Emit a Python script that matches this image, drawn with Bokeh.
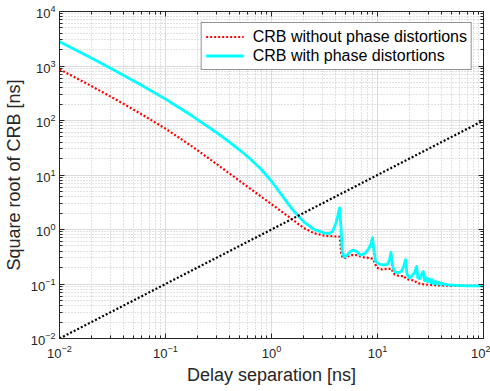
from bokeh.plotting import figure
from bokeh.models import (Range1d, LogAxis, FixedTicker, Legend, LegendItem)
from bokeh.embed import file_html
from bokeh.resources import INLINE

# ---------------- data ----------------
x_label = "Delay separation [ns]"
y_label = "Square root of CRB [ns]"
series_names = ["CRB without phase distortions", "CRB with phase distortions"]

red_x = [0.01, 0.0178, 0.0316, 0.0562, 0.1, 0.178, 0.316, 0.562, 1.0, 1.259,
         1.585, 1.995, 2.512, 3.162, 3.981, 4.365, 4.45, 4.55, 4.7, 5.0,
         5.5, 6.3, 7.3, 8.3, 9.0, 9.4, 9.8, 11.0, 12.5, 13.6,
         14.0, 14.5, 16.0, 17.8, 18.5, 20.0, 22.5, 23.5, 26.0, 30.0,
         36.0, 45.0, 60.0, 100.0]
red_y = [871, 484, 263, 139, 70.8, 33.5, 15.0, 6.6, 2.92, 2.10,
         1.51, 1.08, 0.857, 0.77, 0.746, 0.74, 0.60, 0.36, 0.30, 0.30,
         0.34, 0.34, 0.31, 0.30, 0.29, 0.25, 0.20, 0.185, 0.19, 0.19,
         0.165, 0.15, 0.14, 0.14, 0.125, 0.12, 0.115, 0.105, 0.10, 0.097,
         0.095, 0.093, 0.092, 0.092]

cyan_x = [0.01, 0.0178, 0.0316, 0.0562, 0.1, 0.178, 0.316, 0.398, 0.501, 0.631,
          0.794, 1.0, 1.259, 1.585, 1.995, 2.512, 3.162, 3.55, 3.8, 4.05,
          4.25, 4.38, 4.5, 4.65, 4.85, 5.2, 5.6, 5.9, 6.4, 6.9,
          7.6, 8.3, 8.7, 8.97, 9.2, 9.6, 10.5, 11.5, 12.4, 13.0,
          13.4, 13.8, 14.5, 15.5, 16.8, 17.8, 18.4, 19.0, 20.0, 21.0,
          22.3, 23.4, 24.0, 25.0, 26.0, 27.0, 27.8, 28.8, 29.8, 30.8,
          31.8, 32.8, 34.0, 35.2, 36.5, 38.0, 39.5, 41.0, 43.0, 45.0,
          47.0, 50.0, 53.0, 57.0, 62.0, 70.0, 100.0]
cyan_y = [2800, 1574, 875, 473, 247, 122, 57, 40.6, 28.7, 19.7,
          12.9, 7.67, 4.17, 2.29, 1.41, 1.01, 0.86, 0.85, 0.95, 1.3,
          1.9, 2.5, 1.3, 0.4, 0.31, 0.34, 0.40, 0.42, 0.39, 0.34,
          0.36, 0.45, 0.56, 0.71, 0.45, 0.26, 0.23, 0.225, 0.23, 0.28,
          0.38, 0.22, 0.17, 0.16, 0.17, 0.22, 0.28, 0.15, 0.13, 0.14,
          0.16, 0.21, 0.13, 0.125, 0.15, 0.17, 0.115, 0.13, 0.11, 0.125,
          0.105, 0.12, 0.10, 0.113, 0.099, 0.108, 0.097, 0.103, 0.096, 0.099,
          0.095, 0.096, 0.094, 0.094, 0.093, 0.092, 0.092]

ref_x = [0.01, 100.0]
ref_y = [0.01, 100.0]

x_major = [1e-2, 1e-1, 1e0, 1e1, 1e2]
y_major = [1e-2, 1e-1, 1e0, 1e1, 1e2, 1e3, 1e4]

# ---------------- figure ----------------
FONT = "Liberation Sans"
AX = "#262626"

def minors(majors):
    out = []
    for m in majors[:-1]:
        for k in range(2, 10):
            out.append(m * k)
    return out

xt = FixedTicker(ticks=x_major, minor_ticks=minors(x_major))
yt = FixedTicker(ticks=y_major, minor_ticks=minors(y_major))

p = figure(width=490, height=391, x_axis_type="log", y_axis_type="log",
           x_range=Range1d(0.01, 100), y_range=Range1d(0.01, 1e4),
           output_backend="svg", toolbar_location=None,
           min_border_left=59, min_border_right=7, min_border_top=11, min_border_bottom=53)
p.background_fill_color = "white"
p.border_fill_color = "white"
p.outline_line_color = AX
p.outline_line_width = 1

for ax, t in ((p.xaxis[0], xt), (p.yaxis[0], yt)):
    ax.ticker = t
    ax.axis_line_color = AX
    ax.major_tick_line_color = AX
    ax.minor_tick_line_color = AX
    ax.major_tick_in = 5
    ax.major_tick_out = 0
    ax.minor_tick_in = 3
    ax.minor_tick_out = 0
    ax.major_label_text_font = FONT
    ax.major_label_text_font_size = "13px"
    ax.major_label_text_color = AX
    ax.axis_label_text_font = FONT
    ax.axis_label_text_font_size = "18px"
    ax.axis_label_text_font_style = "normal"
    ax.axis_label_text_color = AX

p.xaxis.axis_label = x_label
p.yaxis.axis_label = y_label
p.xaxis.major_label_standoff = 6
p.yaxis.major_label_standoff = 4
p.xaxis.axis_label_standoff = 4
p.yaxis.axis_label_standoff = 4

# mirrored axes (top and right) with inward ticks, no visible labels
for side, t in (("above", xt), ("right", yt)):
    a = LogAxis(ticker=t)
    a.major_label_text_font_size = "1px"
    a.major_label_text_alpha = 0
    a.major_label_standoff = 0
    a.axis_line_color = AX
    a.major_tick_line_color = AX
    a.minor_tick_line_color = AX
    a.major_tick_in = 5
    a.major_tick_out = 0
    a.minor_tick_in = 3
    a.minor_tick_out = 0
    p.add_layout(a, side)

# grids
for g, t in ((p.xgrid[0], xt), (p.ygrid[0], yt)):
    g.ticker = t
    g.grid_line_color = "#dcdcdc"
    g.grid_line_width = 1
    g.minor_grid_line_color = "#c4c4c4"
    g.minor_grid_line_dash = "1 2"
    g.minor_grid_line_width = 1

# lines
r_red = p.line(red_x, red_y, line_color="#ff0000", line_width=2.2, line_dash="2 2")
r_cyan = p.line(cyan_x, cyan_y, line_color="#00ffff", line_width=2.8, line_join="round")
p.line(ref_x, ref_y, line_color="black", line_width=2.2, line_dash="2 2")

legend = Legend(items=[LegendItem(label=series_names[0], renderers=[r_red]),
                       LegendItem(label=series_names[1], renderers=[r_cyan])],
                location="top_right")
legend.label_text_font = FONT
legend.label_text_font_size = "16px"
legend.label_text_color = "black"
legend.border_line_color = AX
legend.border_line_width = 1
legend.background_fill_color = "white"
legend.background_fill_alpha = 1
legend.margin = 11
legend.padding = 4
legend.spacing = 0
legend.label_height = 19
legend.glyph_height = 19
legend.glyph_width = 38
legend.label_standoff = 9
p.add_layout(legend)

open("out.html", "w").write(file_html(p, INLINE))
